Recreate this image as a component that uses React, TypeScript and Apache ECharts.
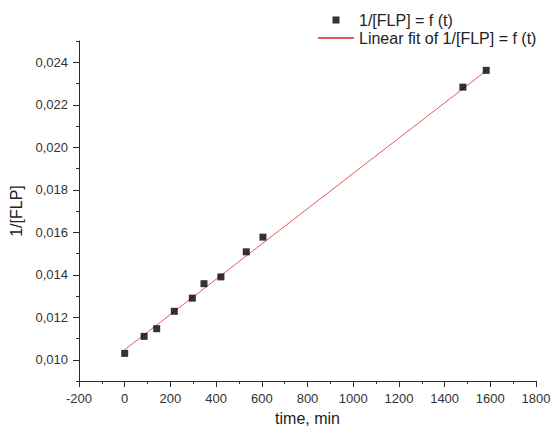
import React, { useEffect, useRef } from "react";
import * as echarts from "echarts";

const timeMin = [0, 85, 140, 217, 296, 347, 421, 532, 605, 1480, 1582];
const invFLP = [0.0103, 0.0111, 0.01146, 0.01228, 0.0129, 0.01358, 0.0139, 0.01508, 0.01577, 0.02283, 0.02362];
const fitTime = [0, 1582];
const fitValue = [0.01047, 0.0236];
const yMajorTicks = [0.01, 0.012, 0.014, 0.016, 0.018, 0.02, 0.022, 0.024];
const yMinorTicks = [0.009, 0.011, 0.013, 0.015, 0.017, 0.019, 0.021, 0.023, 0.025];
const seriesName = "1/[FLP] = f (t)";
const fitName = "Linear fit of 1/[FLP] = f (t)";

const FONT = "Liberation Sans, Arial, sans-serif";

export default function App() {
  const ref = useRef<HTMLDivElement>(null);
  useEffect(() => {
    document.body.style.margin = "0";
    const chart = echarts.init(ref.current!, null, { renderer: "svg" });
    const axisColor = "#2a2a2a";
    chart.setOption({
      animation: false,
      backgroundColor: "#ffffff",
      textStyle: { fontFamily: FONT },
      legend: {
        orient: "vertical",
        left: 317,
        top: 12,
        padding: 0,
        itemWidth: 36,
        itemHeight: 7,
        itemGap: 2,
        itemTextGap: 5,
        textStyle: { fontFamily: FONT, fontSize: 16, lineHeight: 16, color: "#222" },
        data: [
          { name: seriesName, icon: "path://M0,0M36,7M14.5,0h7v7h-7z", itemStyle: { color: "#000" } },
          { name: fitName, itemStyle: { opacity: 0 } },
        ],
      },
      grid: { left: 79, right: 16, top: 41, bottom: 46, outerBoundsMode: "none", containLabel: false },
      xAxis: {
        type: "value",
        min: -200,
        max: 1800,
        interval: 200,
        name: "time, min",
        nameLocation: "middle",
        nameGap: 29,
        nameTextStyle: { fontFamily: FONT, fontSize: 16, color: "#222" },
        axisLine: { show: true, onZero: false, lineStyle: { color: axisColor, width: 1 } },
        axisTick: { show: true, length: 6, lineStyle: { color: axisColor } },
        minorTick: { show: true, splitNumber: 2, length: 3, lineStyle: { color: axisColor } },
        splitLine: { show: false },
        axisLabel: {
          fontFamily: FONT,
          fontSize: 13,
          color: "#333",
          margin: 11,
          formatter: (v: number) => String(v),
        },
      },
      yAxis: [
        {
          type: "value",
          min: 0.009,
          max: 0.025,
          interval: 0.001,
          position: "left",
          name: "1/[FLP]",
          nameLocation: "middle",
          nameGap: 47,
          nameTextStyle: { fontFamily: FONT, fontSize: 16, color: "#222" },
          axisLine: { show: true, onZero: false, lineStyle: { color: axisColor, width: 1 } },
          axisTick: { show: true, length: 6, customValues: yMajorTicks, lineStyle: { color: axisColor } },
          splitLine: { show: false },
          axisLabel: {
            fontFamily: FONT,
            fontSize: 13,
            color: "#333",
            margin: 11,
            customValues: yMajorTicks,
            formatter: (v: number) => v.toFixed(3).replace(".", ","),
          },
        },
        {
          type: "value",
          min: 0.009,
          max: 0.025,
          interval: 0.001,
          position: "left",
          axisLine: { show: false, onZero: false },
          axisTick: { show: true, length: 3, customValues: yMinorTicks, lineStyle: { color: axisColor } },
          axisLabel: { show: false },
          splitLine: { show: false },
        },
      ],
      series: [
        {
          name: seriesName,
          type: "scatter",
          symbol: "rect",
          symbolSize: 7,
          itemStyle: { color: "#000" },
          z: 3,
          data: timeMin.map((t, i) => [t, invFLP[i]]),
        },
        {
          name: fitName,
          type: "line",
          symbol: "none",
          lineStyle: { color: "#e5585c", width: 1 },
          itemStyle: { color: "#e5585c" },
          z: 2,
          data: fitTime.map((t, i) => [t, fitValue[i]]),
        },
      ],
    });
    return () => chart.dispose();
  }, []);
  return <div ref={ref} style={{ width: 552, height: 427 }} />;
}
